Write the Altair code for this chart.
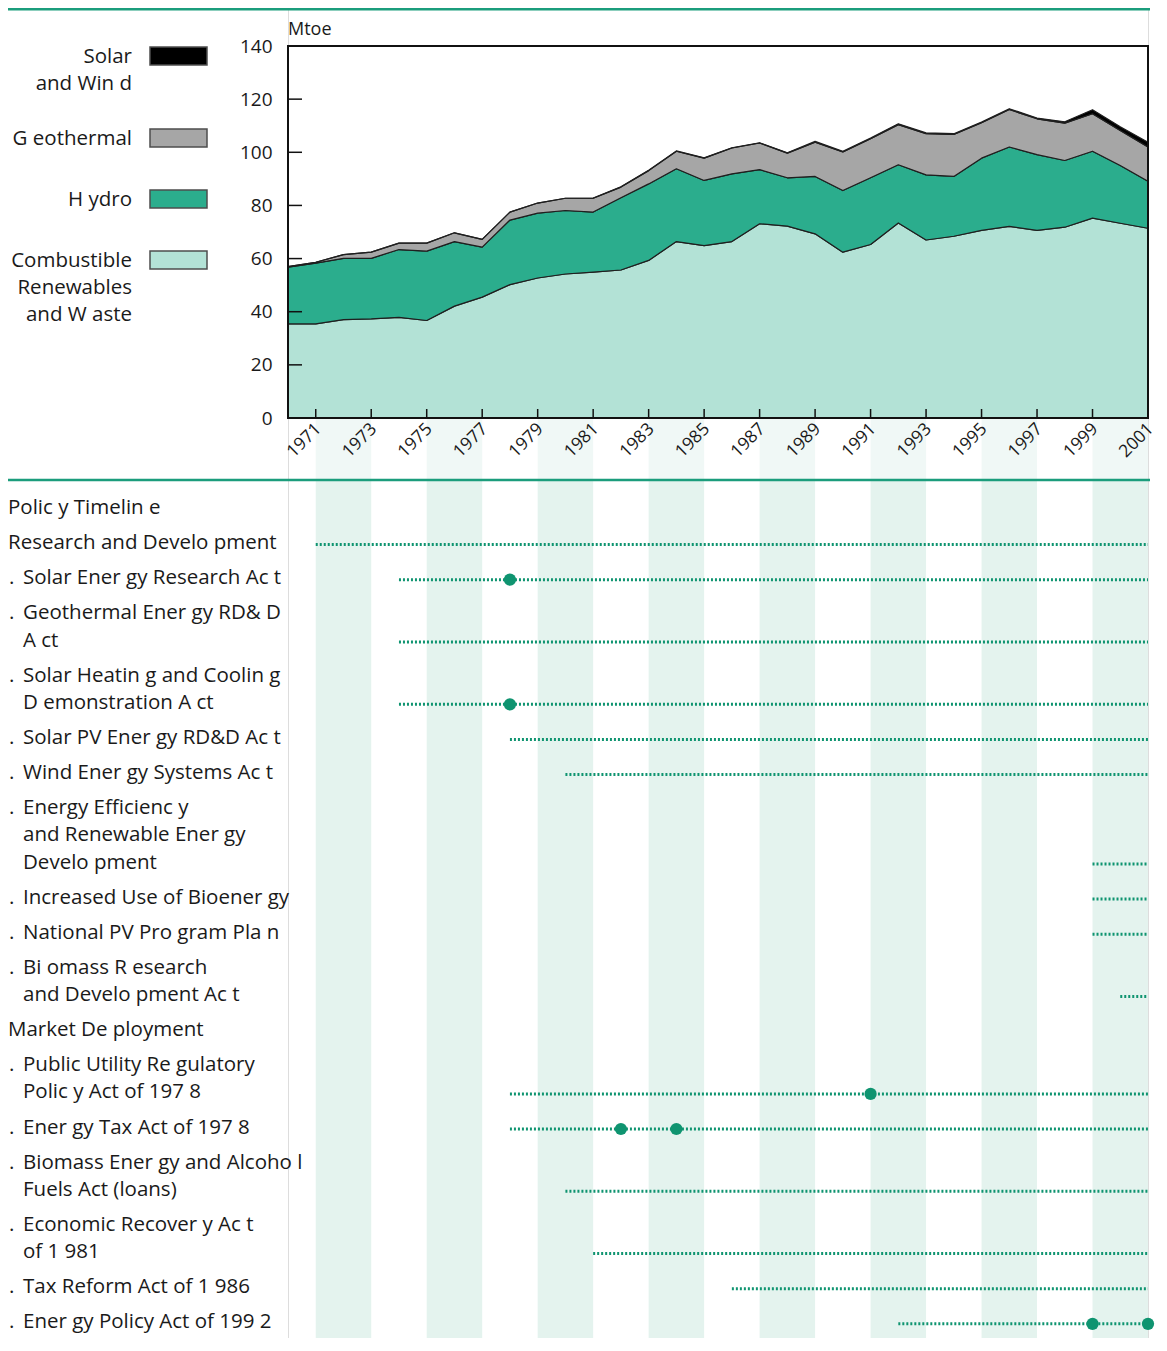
import altair as alt
import pandas as pd

# ---------------- data ----------------
years = list(range(1970, 2002))
combustible = [35.4, 35.4, 37.0, 37.3, 37.9, 36.7, 42.1, 45.5, 50.2, 52.7,
               54.2, 54.9, 55.7, 59.3, 66.4, 64.9, 66.4, 73.1, 72.2, 69.3,
               62.4, 65.3, 73.4, 67.0, 68.4, 70.6, 72.1, 70.6, 71.8, 75.2,
               73.3, 71.4]
hydro = [21.4, 22.9, 23.1, 22.8, 25.5, 26.1, 24.3, 18.8, 24.3, 24.4,
         23.9, 22.6, 27.2, 28.8, 27.4, 24.5, 25.5, 20.4, 18.2, 21.6,
         23.2, 25.1, 21.9, 24.5, 22.5, 27.2, 29.9, 28.5, 25.1, 25.2,
         21.7, 17.7]
geothermal = [0.2, 0.3, 1.4, 2.3, 2.4, 3.0, 3.3, 2.9, 3.0, 3.8,
              4.6, 5.2, 4.0, 5.0, 6.6, 8.4, 9.7, 10.0, 9.3, 12.9,
              14.5, 14.7, 15.1, 15.5, 15.8, 13.3, 14.1, 13.5, 14.1, 14.1,
              13.2, 12.9]
solar_wind = [0.0, 0.0, 0.0, 0.0, 0.0, 0.0, 0.0, 0.0, 0.0, 0.0,
              0.0, 0.1, 0.1, 0.1, 0.1, 0.1, 0.1, 0.1, 0.1, 0.3,
              0.3, 0.3, 0.3, 0.3, 0.3, 0.3, 0.3, 0.3, 0.5, 1.5,
              1.4, 1.8]

# stacking order: bottom -> top
sources = ["Combustible Renewables and Waste", "Hydro", "Geothermal", "Solar and Wind"]
source_colors = ["#b3e2d6", "#2bad8d", "#a6a6a6", "#000000"]

# legend (top -> bottom)
legend_labels = ["Solar|and Win d", "G eothermal", "H ydro", "Combustible|Renewables|and W aste"]
legend_colors = ["#000000", "#a6a6a6", "#2bad8d", "#b3e2d6"]

unit_label = "Mtoe"
y_ticks = [0, 20, 40, 60, 80, 100, 120, 140]
x_tick_years = [1971, 1973, 1975, 1977, 1979, 1981, 1983, 1985, 1987,
                1989, 1991, 1993, 1995, 1997, 1999, 2001]
band_starts = [1971, 1975, 1979, 1983, 1987, 1991, 1995, 1999]
band_ends = [1973, 1977, 1981, 1985, 1989, 1993, 1997, 2001]

tl_labels = [
    "Polic y Timelin e",
    "Research and Develo pment",
    "Solar Ener gy Research Ac t",
    "Geothermal Ener gy RD& D|A ct",
    "Solar Heatin g and Coolin g|D emonstration A ct",
    "Solar PV Ener gy RD&D Ac t",
    "Wind Ener gy Systems Ac t",
    "Energy Efficienc y|and Renewable Ener gy|Develo pment",
    "Increased Use of Bioener gy",
    "National PV Pro gram Pla n",
    "Bi omass R esearch|and Develo pment Ac t",
    "Market De ployment",
    "Public Utility Re gulatory|Polic y Act of 197 8",
    "Ener gy Tax Act of 197 8",
    "Biomass Ener gy and Alcoho l|Fuels Act (loans)",
    "Economic Recover y Ac t|of 1 981",
    "Tax Reform Act of 1 986",
    "Ener gy Policy Act of 199 2",
]
tl_kind = ["head", "head", "item", "item", "item", "item", "item", "item", "item",
           "item", "item", "head", "item", "item", "item", "item", "item", "item"]
tl_start = [None, 1971, 1974, 1974, 1974, 1978, 1980, 1999, 1999,
            1999, 2000, None, 1978, 1978, 1980, 1981, 1986, 1992]
tl_end = [None, 2001, 2001, 2001, 2001, 2001, 2001, 2001, 2001,
          2001, 2001, None, 2001, 2001, 2001, 2001, 2001, 2001]
tl_dots = [[], [], [1978], [], [1978], [], [], [], [],
           [], [], [], [1991], [1982, 1984], [], [], [], [1999, 2001]]

# ---------------- layout constants ----------------
W, H = 860, 1330
PLOT_TOP, PLOT_BOTTOM = 38, 410
SEP_Y = 472
TL_FIRST, ROW_GAP, LINE_H = 500, 35.1, 27.2
LG_FIRST, LG_STEP, LG_EXTRA, LG_LINE = 49, 61, 21, 27

GREEN = "#1b9d7c"
DOT = "#0f9470"
BAND = "#e4f3ee"
TXT = "#1a1a1a"
FONT = "Open Sans"
FS = 20.5

# ---------------- tables ----------------
rows = []
for i, src in enumerate(sources):
    vals = [combustible, hydro, geothermal, solar_wind][i]
    for yr, v in zip(years, vals):
        rows.append({"year": yr, "source": src, "value": v, "idx": i})
area_df = pd.DataFrame(rows)

frame_df = pd.DataFrame({"x0": [years[0]], "x1": [years[-1]],
                         "y0": [y_ticks[0]], "y1": [y_ticks[-1]]})
ytick_df = pd.DataFrame({"v": y_ticks[1:-1]})
xtick_df = pd.DataFrame({"yr": x_tick_years[:-1]})
xlab_df = pd.DataFrame({"yr": x_tick_years, "lab": [str(v) for v in x_tick_years]})
band_df = pd.DataFrame({"b0": band_starts, "b1": band_ends})
one_df = pd.DataFrame({"t": [unit_label]})

lg_rect, lg_text = [], []
y = LG_FIRST
for lab, col in zip(legend_labels, legend_colors):
    parts = lab.split("|")
    lg_rect.append({"ytop": y - 10, "ybot": y + 8, "color": col})
    for k, p in enumerate(parts):
        lg_text.append({"text": p, "y": y + k * LG_LINE})
    y = y + LG_STEP + (len(parts) - 1) * LG_EXTRA
lg_rect_df = pd.DataFrame(lg_rect)
lg_text_df = pd.DataFrame(lg_text)

tl_text, tl_lines, tl_pts = [], [], []
y = TL_FIRST
for lab, kind, s, e, dots in zip(tl_labels, tl_kind, tl_start, tl_end, tl_dots):
    parts = lab.split("|")
    for k, p in enumerate(parts):
        tl_text.append({"text": p, "y": y + k * LINE_H, "kind": kind, "first": k == 0})
    last = y + (len(parts) - 1) * LINE_H
    if s is not None:
        tl_lines.append({"start": s, "end": e, "y": last + 1.5})
        for d in dots:
            tl_pts.append({"year": d, "y": last + 1.5})
    y = last + ROW_GAP
tl_text_df = pd.DataFrame(tl_text)
tl_lines_df = pd.DataFrame(tl_lines)
tl_pts_df = pd.DataFrame(tl_pts)
bullet_df = tl_text_df[(tl_text_df["kind"] == "item") & (tl_text_df["first"])].assign(text=".")

# ---------------- scales ----------------
xs = alt.Scale(domain=[years[0], years[-1]], nice=False, zero=False)
mt = alt.Scale(domain=[y_ticks[0], y_ticks[-1]], range=[PLOT_BOTTOM, PLOT_TOP], nice=False, zero=False)
pxs = alt.Scale(domain=[0, H], range=[0, H], nice=False, zero=False)

# ---------------- layers ----------------
bands_top = alt.Chart(band_df).mark_rect(color=BAND, opacity=0.55).encode(
    x=alt.X("b0:Q", scale=xs, axis=None), x2="b1:Q",
    y=alt.value(PLOT_BOTTOM), y2=alt.value(SEP_Y))
bands_main = alt.Chart(band_df).mark_rect(color=BAND).encode(
    x=alt.X("b0:Q", scale=xs, axis=None), x2="b1:Q",
    y=alt.value(SEP_Y), y2=alt.value(H))

area = alt.Chart(area_df).mark_area(stroke="#1f1f1f", strokeWidth=1.2, strokeJoin="round").encode(
    x=alt.X("year:Q", scale=xs, axis=None),
    y=alt.Y("value:Q", stack="zero", scale=mt,
            axis=alt.Axis(values=y_ticks, ticks=False, domain=False, grid=False,
                          labelPadding=16, labelFontSize=19, labelFont=FONT,
                          labelColor=TXT, title=None)),
    color=alt.Color("source:N", scale=alt.Scale(domain=sources, range=source_colors), legend=None),
    order=alt.Order("idx:Q", sort="ascending"))

frame = alt.Chart(frame_df).mark_rect(fill="transparent", stroke="#111111", strokeWidth=2).encode(
    x=alt.X("x0:Q", scale=xs, axis=None), x2="x1:Q",
    y=alt.Y("y0:Q", scale=mt, axis=None), y2="y1:Q")

yticks = alt.Chart(ytick_df).mark_rule(color="#111111", strokeWidth=1.5).encode(
    y=alt.Y("v:Q", scale=mt, axis=None), x=alt.value(0), x2=alt.value(14))

xticks = alt.Chart(xtick_df).mark_rule(color="#111111", strokeWidth=1.5).encode(
    x=alt.X("yr:Q", scale=xs, axis=None), y=alt.value(PLOT_BOTTOM), y2=alt.value(PLOT_BOTTOM - 9))

xlabels = alt.Chart(xlab_df).mark_text(angle=315, align="right", baseline="middle", dx=-4, dy=8,
                                       fontSize=17.5, font=FONT, color=TXT).encode(
    x=alt.X("yr:Q", scale=xs, axis=None), y=alt.value(PLOT_BOTTOM), text="lab:N")

unit = alt.Chart(one_df).mark_text(align="left", baseline="middle", fontSize=18, font=FONT, color=TXT).encode(
    x=alt.value(0), y=alt.value(22), text="t:N")

lg_boxes = alt.Chart(lg_rect_df).mark_rect(stroke="#4d4d4d", strokeWidth=1.5).encode(
    x=alt.value(-138), x2=alt.value(-81),
    y=alt.Y("ytop:Q", scale=pxs, axis=None), y2="ybot:Q",
    fill=alt.Fill("color:N", scale=None))

lg_texts = alt.Chart(lg_text_df).mark_text(align="right", baseline="middle", fontSize=FS,
                                           font=FONT, color=TXT).encode(
    x=alt.value(-156), y=alt.Y("y:Q", scale=pxs, axis=None), text="text:N")

rule_top = alt.Chart(one_df).mark_rule(color=GREEN, strokeWidth=2.5).encode(
    x=alt.value(-280), x2=alt.value(W + 2), y=alt.value(1.3))
rule_sep = alt.Chart(one_df).mark_rule(color=GREEN, strokeWidth=2.5).encode(
    x=alt.value(-280), x2=alt.value(W + 2), y=alt.value(SEP_Y))

head_text = alt.Chart(tl_text_df).transform_filter("datum.kind == 'head'").mark_text(
    align="left", baseline="middle", fontSize=FS, font=FONT, color=TXT).encode(
    x=alt.value(-280), y=alt.Y("y:Q", scale=pxs, axis=None), text="text:N")
item_text = alt.Chart(tl_text_df).transform_filter("datum.kind == 'item'").mark_text(
    align="left", baseline="middle", fontSize=FS, font=FONT, color=TXT).encode(
    x=alt.value(-265), y=alt.Y("y:Q", scale=pxs, axis=None), text="text:N")
bullets = alt.Chart(bullet_df).mark_text(
    align="left", baseline="middle", fontSize=FS, font=FONT, color=TXT).encode(
    x=alt.value(-279), y=alt.Y("y:Q", scale=pxs, axis=None), text="text:N")

tl_rules = alt.Chart(tl_lines_df).mark_rule(color=DOT, strokeWidth=3, strokeDash=[2, 2]).encode(
    x=alt.X("start:Q", scale=xs, axis=None), x2="end:Q",
    y=alt.Y("y:Q", scale=pxs, axis=None))
tl_dots_l = alt.Chart(tl_pts_df).mark_circle(size=150, color=DOT, opacity=1).encode(
    x=alt.X("year:Q", scale=xs, axis=None), y=alt.Y("y:Q", scale=pxs, axis=None))

chart = alt.layer(
    bands_top, bands_main, area, frame, yticks, xticks, xlabels, unit,
    lg_boxes, lg_texts, rule_top, rule_sep, head_text, item_text, bullets,
    tl_rules, tl_dots_l
).resolve_scale(y="independent").properties(
    width=W, height=H,
    padding={"left": 280, "right": 11, "top": 0, "bottom": 0},
    autosize=alt.AutoSizeParams(type="none"),
).configure_view(stroke="transparent").configure(font=FONT)

chart.save("out.html", embed_options={"renderer": "svg", "actions": False})
